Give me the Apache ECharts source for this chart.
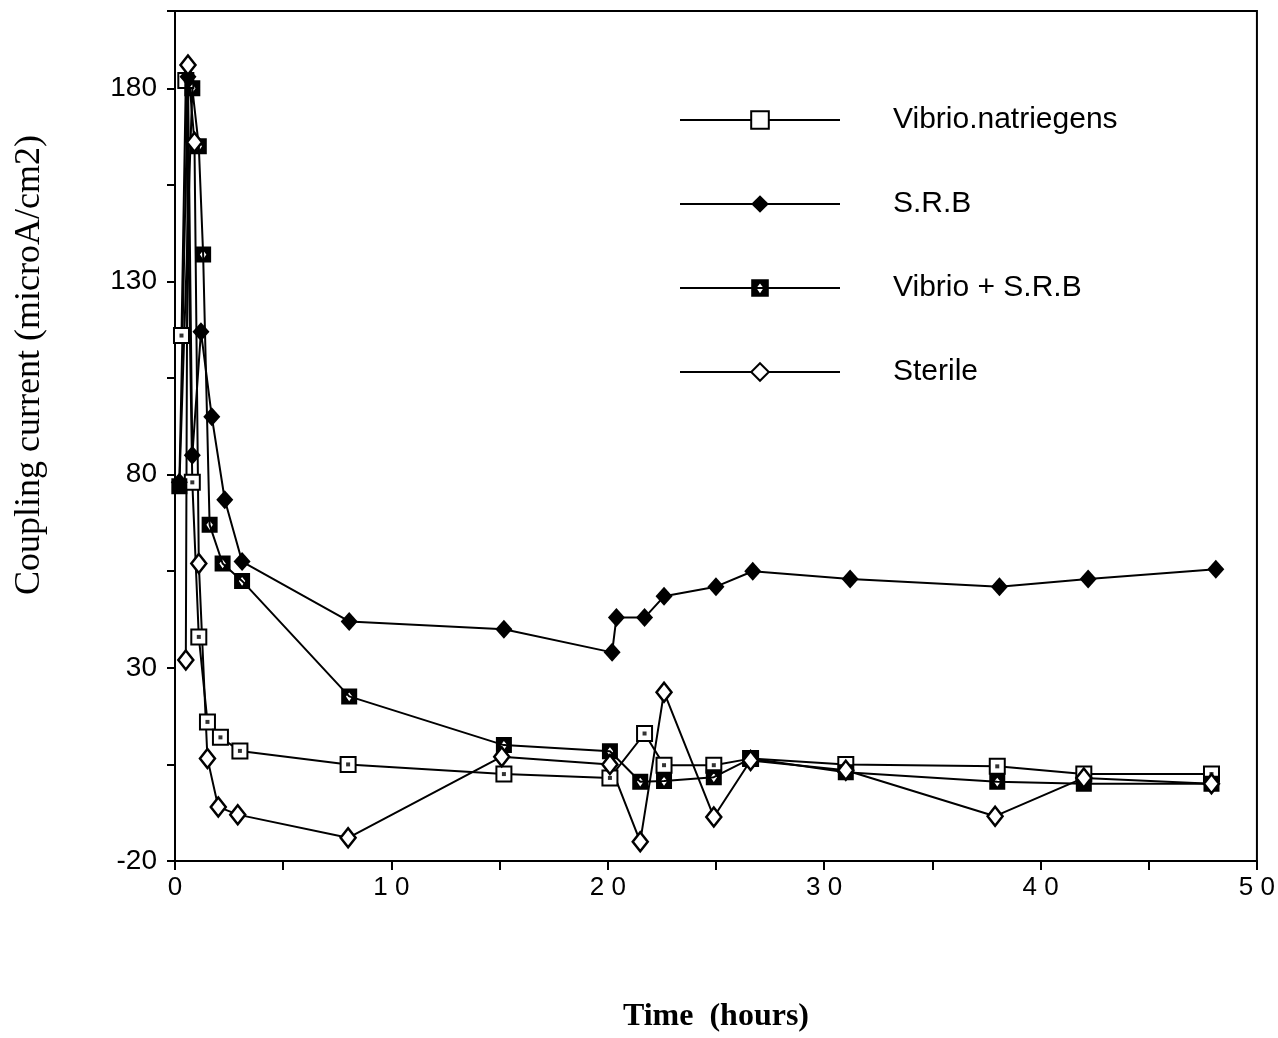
<!DOCTYPE html>
<html>
<head>
<meta charset="utf-8">
<script src="https://cdn.jsdelivr.net/npm/echarts@6/dist/echarts.min.js"></script>
<style>
  html, body { margin: 0; padding: 0; background: #fff; }
  #main { width: 1278px; height: 1038px; }
</style>
</head>
<body>
<div id="main"></div>
<script>
var myChart = echarts.init(document.getElementById('main'));

// [time (hours), coupling current]
var vibrio = [[0.3, 116], [0.5, 182], [0.8, 78], [1.1, 38], [1.5, 16], [2.1, 12], [3.0, 8.5], [8.0, 5],
    [15.2, 2.5], [20.1, 1.5], [21.7, 13], [22.6, 4.8], [24.9, 4.8], [26.6, 6.5], [31.0, 5], [38.0, 4.5],
    [42.0, 2.5], [47.9, 2.5]];
var srb = [[0.2, 78], [0.6, 183], [0.8, 85], [1.2, 117], [1.7, 95], [2.3, 73.5], [3.1, 57.5], [8.05, 42],
    [15.2, 40], [20.2, 34], [20.4, 43], [21.7, 43], [22.6, 48.5], [25.0, 51], [26.7, 55], [31.2, 53],
    [38.1, 51], [42.2, 53], [48.1, 55.5]];
var vibrioSrb = [[0.2, 77], [0.8, 180], [1.1, 165], [1.3, 137], [1.6, 67], [2.2, 57], [3.1, 52.5], [8.05, 22.6],
    [15.2, 10], [20.1, 8.4], [21.5, 0.5], [22.6, 0.7], [24.9, 1.7], [26.6, 6.5], [31.0, 3], [38.0, 0.5],
    [42.0, 0], [47.9, 0]];
var sterile = [[0.5, 32], [0.6, 186], [0.9, 166], [1.1, 57], [1.5, 6.5], [2.0, -6], [2.9, -8], [8.0, -14],
    [15.1, 7], [20.1, 5], [21.5, -15], [22.6, 23.7], [24.9, -8.6], [26.6, 6], [31.0, 3.5], [37.9, -8.4],
    [42.0, 1.5], [47.9, 0]];
var names = ['Vibrio.natriegens', 'S.R.B', 'Vibrio + S.R.B', 'Sterile'];

var squareHole = 'path://M0,0 L10,0 L10,10 L0,10 Z M5,2.5 L3,5 L5,8 L7,5 Z';

option = {
    backgroundColor: '#fff',
    animation: false,
    grid: {
        left: 175,
        right: 21,
        top: 11,
        bottom: 176,
        show: true,
        borderColor: '#000',
        borderWidth: 2
    },
    legend: {
        data: names,
        orient: 'vertical',
        left: 674,
        top: 100,
        itemWidth: 160,
        itemHeight: 22,
        itemGap: 54,
        textStyle: {
            fontFamily: 'Liberation Sans',
            fontSize: 30,
            color: '#000',
            padding: [0, 0, 0, 48]
        }
    },
    xAxis: {
        type: 'value',
        min: 0,
        max: 50,
        interval: 5,
        name: 'Time  (hours)',
        nameLocation: 'middle',
        nameGap: 140,
        nameTextStyle: {
            fontFamily: 'Liberation Serif',
            fontWeight: 'bold',
            fontSize: 32,
            color: '#000'
        },
        axisLine: { onZero: false, lineStyle: { color: '#000', width: 2 } },
        axisTick: { length: 9, lineStyle: { color: '#000', width: 2 } },
        splitLine: { show: false },
        axisLabel: {
            margin: 14,
            fontFamily: 'Liberation Sans',
            fontSize: 26,
            color: '#000',
            formatter: function (v) {
                return v % 10 === 0 ? String(v).split('').join(' ') : '';
            }
        }
    },
    yAxis: {
        type: 'value',
        min: -20,
        max: 200,
        interval: 25,
        axisLine: { onZero: false, lineStyle: { color: '#000', width: 2 } },
        axisTick: { length: 8, lineStyle: { color: '#000', width: 2 } },
        splitLine: { show: false },
        axisLabel: {
            margin: 18,
            fontFamily: 'Liberation Sans',
            fontSize: 28,
            color: '#000',
            formatter: function (v) {
                return (v + 20) % 50 === 0 && v < 200 ? v : '';
            }
        }
    },
    graphic: [{
        type: 'text',
        x: 30,
        y: 365,
        rotation: Math.PI / 2,
        style: {
            text: 'Coupling current (microA/cm2)',
            fontFamily: 'Liberation Serif',
            fontSize: 36,
            fill: '#000',
            align: 'center',
            verticalAlign: 'middle'
        }
    }],
    series: [{
        name: names[0],
        type: 'line',
        data: vibrio,
        symbol: 'rect',
        symbolSize: 15,
        showAllSymbol: true,
        lineStyle: { color: '#000', width: 2 },
        itemStyle: { color: '#fff', borderColor: '#000', borderWidth: 2 }
    }, {
        name: 'vibrio-dot',
        type: 'scatter',
        data: vibrio,
        symbol: 'rect',
        symbolSize: 4,
        silent: true,
        z: 3,
        itemStyle: { color: '#000' }
    }, {
        name: names[1],
        type: 'line',
        data: srb,
        symbol: 'diamond',
        symbolSize: [17, 19],
        showAllSymbol: true,
        lineStyle: { color: '#000', width: 2 },
        itemStyle: { color: '#000' }
    }, {
        name: names[2],
        type: 'line',
        data: vibrioSrb,
        symbol: squareHole,
        symbolSize: 16,
        showAllSymbol: true,
        lineStyle: { color: '#000', width: 2 },
        itemStyle: { color: '#000' }
    }, {
        name: names[3],
        type: 'line',
        data: sterile,
        symbol: 'diamond',
        symbolSize: [15, 19],
        showAllSymbol: true,
        lineStyle: { color: '#000', width: 2 },
        itemStyle: { color: '#fff', borderColor: '#000', borderWidth: 2.5 }
    }]
};
myChart.setOption(option);
</script>
</body>
</html>
